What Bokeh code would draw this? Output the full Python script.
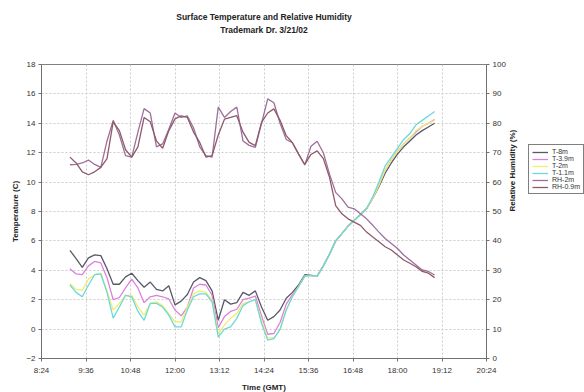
import math
from bokeh.plotting import figure
from bokeh.layouts import row
from bokeh.models import Range1d, LinearAxis, FixedTicker, Legend, LegendItem, Title
from bokeh.embed import file_html
from bokeh.resources import INLINE

# ---------------- data ----------------
times = ["9:10", "9:20", "9:30", "9:40", "9:50", "10:00", "10:10", "10:20", "10:30", "10:40",
         "10:50", "11:00", "11:10", "11:20", "11:30", "11:40", "11:50", "12:00", "12:10", "12:20",
         "12:30", "12:40", "12:50", "13:00", "13:10", "13:20", "13:30", "13:40", "13:50", "14:00",
         "14:10", "14:20", "14:30", "14:40", "14:50", "15:00", "15:10", "15:20", "15:30", "15:40",
         "15:50", "16:00", "16:10", "16:20", "16:30", "16:40", "16:50", "17:00", "17:10", "17:20",
         "17:30", "17:40", "17:50", "18:00", "18:10", "18:20", "18:30", "18:40", "18:50", "19:00"]

t_8m = [5.35, 4.8, 4.2, 4.85, 5.05, 5.0, 4.1, 3.05, 3.05, 3.55,
        3.8, 3.3, 2.85, 3.2, 2.7, 2.6, 2.95, 1.65, 1.9, 2.35,
        3.2, 3.5, 3.3, 2.6, 0.6, 2.0, 1.7, 1.8, 2.5, 2.3,
        2.6, 1.5, 0.6, 0.85, 1.3, 2.1, 2.5, 3.0, 3.7, 3.65,
        3.6, 4.3, 5.1, 6.0, 6.5, 7.0, 7.4, 7.8, 8.2, 8.9,
        9.7, 10.6, 11.3, 11.9, 12.4, 12.8, 13.2, 13.5, 13.75, 14.0]

t_3_9m = [4.1, 3.75, 3.7, 4.3, 4.6, 4.5, 3.5, 2.0, 2.15, 2.8,
          3.4, 2.8, 1.8, 2.2, 2.3, 2.2, 2.05, 1.3, 0.9, 1.5,
          2.8, 3.05, 3.0, 2.3, 0.1, 0.85, 1.2, 1.35, 2.0, 2.1,
          2.25, 0.9, -0.35, -0.3, 0.45, 1.7, 2.35, 2.9, 3.6, 3.65,
          3.6, 4.3, 5.1, 6.0, 6.5, 7.0, 7.4, 7.8, 8.2, 8.9,
          9.8, 10.8, 11.5, 12.1, 12.6, 13.0, 13.4, 13.8, 14.0, 14.25]

t_2m = [3.1, 2.7, 2.65, 3.4, 3.7, 3.8, 2.6, 1.3, 1.75, 2.3,
        2.3, 1.5, 0.95, 1.75, 1.85, 1.6, 1.05, 0.5, 0.5, 1.5,
        2.4, 2.6, 2.5, 2.0, -0.3, 0.27, 0.73, 1.07, 1.75, 1.86,
        2.0, 0.6, -0.6, -0.6, -0.07, 1.3, 2.2, 2.9, 3.6, 3.65,
        3.6, 4.3, 5.1, 6.0, 6.5, 7.0, 7.4, 7.8, 8.2, 8.9,
        9.8, 10.8, 11.5, 12.1, 12.6, 13.0, 13.5, 13.8, 14.0, 14.2]

t_1_1m = [3.0, 2.5, 2.2, 3.0, 3.7, 3.75, 2.5, 0.75, 1.5, 2.3,
          2.2, 1.2, 0.6, 1.75, 1.75, 1.5, 0.95, 0.15, 0.15, 1.3,
          2.2, 2.4, 2.4, 1.86, -0.55, 0.0, 0.15, 0.73, 1.6, 1.86,
          2.0, 0.4, -0.75, -0.65, 0.0, 1.3, 2.2, 2.9, 3.6, 3.65,
          3.6, 4.3, 5.1, 6.0, 6.5, 7.0, 7.4, 7.8, 8.2, 9.0,
          10.0, 11.1, 11.7, 12.3, 12.9, 13.3, 13.9, 14.2, 14.5, 14.8]

rh_2m = [65.9, 66.0, 66.5, 67.5, 66.0, 65.0, 74.0, 81.0, 76.0, 69.0,
         68.5, 77.0, 85.0, 83.5, 72.0, 73.0, 78.0, 83.5, 82.0, 82.5,
         78.5, 72.0, 69.0, 68.5, 85.5, 82.0, 84.0, 85.5, 74.0, 72.5,
         71.8, 80.0, 88.3, 87.0, 80.0, 74.5, 73.4, 69.5, 65.8, 72.2,
         73.9, 70.0, 62.7, 56.5, 54.3, 51.5, 50.9, 49.2, 47.5, 45.3,
         43.0, 40.8, 39.1, 37.4, 35.2, 33.5, 31.8, 30.1, 29.6, 28.4]

rh_0_9m = [68.5, 66.5, 63.5, 62.5, 63.5, 65.0, 68.0, 80.5, 77.5, 71.0,
           68.5, 72.0, 82.0, 80.5, 74.0, 71.5, 77.5, 81.5, 82.5, 82.0,
           77.0, 73.5, 68.5, 69.0, 76.0, 81.4, 82.0, 82.6, 77.0, 73.5,
           72.4, 80.3, 83.5, 84.9, 81.0, 75.8, 73.4, 69.5, 66.0, 69.4,
           70.6, 68.0, 61.6, 52.0, 49.2, 47.5, 46.4, 45.3, 43.0, 41.3,
           39.7, 38.0, 36.9, 35.2, 33.5, 32.4, 31.2, 29.6, 29.0, 27.5]

x_tick_labels = ["8:24", "9:36", "10:48", "12:00", "13:12", "14:24",
                 "15:36", "16:48", "18:00", "19:12", "20:24"]
temp_ticks = [-2, 0, 2, 4, 6, 8, 10, 12, 14, 16, 18]
rh_ticks = [0, 10, 20, 30, 40, 50, 60, 70, 80, 90, 100]


def to_min(s):
    h, m = s.split(":")
    return int(h) * 60 + int(m)


x = [to_min(s) for s in times]
x_ticks = [to_min(s) for s in x_tick_labels]

FONT = "Liberation Sans"

fig = figure(width=522, height=392, frame_width=445, frame_height=294,
             output_backend="svg", toolbar_location=None, title=None,
             x_range=Range1d(x_ticks[0], x_ticks[-1]),
             y_range=Range1d(temp_ticks[0], temp_ticks[-1]),
             min_border_left=41, min_border_right=36, min_border_top=64, min_border_bottom=34,
             background_fill_color="white", border_fill_color="white")
fig.extra_y_ranges = {"rh": Range1d(rh_ticks[0], rh_ticks[-1])}

fig.outline_line_color = "#808080"
fig.outline_line_width = 1

# titles (stacked outward from the plot frame: spacer, subtitle, main title)
spacer = Title(text=".", text_color="#ffffff", text_font=FONT,
               text_font_size="8.5px", standoff=21)
fig.add_layout(spacer, "above")
sub = Title(text="Trademark Dr. 3/21/02", align="center", text_font=FONT,
            text_font_size="8.5px", text_font_style="bold", text_color="#222222", standoff=2)
fig.add_layout(sub, "above")
main = Title(text="Surface Temperature and Relative Humidity", align="center", text_font=FONT,
             text_font_size="8.5px", text_font_style="bold", text_color="#222222", standoff=0)
fig.add_layout(main, "above")


def style_axis(ax):
    ax.axis_line_color = "#707070"
    ax.major_tick_line_color = "#707070"
    ax.major_tick_out = 3
    ax.major_tick_in = 0
    ax.minor_tick_line_color = None
    ax.major_label_text_font = FONT
    ax.major_label_text_font_size = "8px"
    ax.major_label_text_color = "#333333"
    ax.axis_label_text_font = FONT
    ax.axis_label_text_font_size = "8px"
    ax.axis_label_text_font_style = "bold"
    ax.axis_label_text_color = "#222222"
    ax.major_label_standoff = 3


# bottom axis
xa = fig.xaxis[0]
xa.ticker = FixedTicker(ticks=x_ticks)
xa.major_label_overrides = {m: s for m, s in zip(x_ticks, x_tick_labels)}
xa.axis_label = "Time (GMT)"
style_axis(xa)
xa.major_label_standoff = 4
xa.axis_label_standoff = 5

# left axis
ya = fig.yaxis[0]
ya.ticker = FixedTicker(ticks=temp_ticks)
ya.axis_label = "Temperature (C)"
style_axis(ya)
ya.axis_label_standoff = 3

# right axis
ra = LinearAxis(y_range_name="rh", ticker=FixedTicker(ticks=rh_ticks),
                axis_label="Relative Humidity (%)")
style_axis(ra)
ra.axis_label_standoff = 4
ra.axis_label_orientation = math.pi / 2
fig.add_layout(ra, "right")

# grids
fig.xgrid.ticker = FixedTicker(ticks=x_ticks)
fig.ygrid.ticker = FixedTicker(ticks=temp_ticks)
for g in (fig.xgrid[0], fig.ygrid[0]):
    g.grid_line_color = "#cccccc"
    g.grid_line_dash = "2 2"
    g.grid_line_width = 1

series = [
    ("T-8m", t_8m, "#585868", None),
    ("T-3.9m", t_3_9m, "#dd80dd", None),
    ("T-2m", t_2m, "#eeee72", None),
    ("T-1.1m", t_1_1m, "#6cd8d8", None),
    ("RH-2m", rh_2m, "#9c6f9c", "rh"),
    ("RH-0.9m", rh_0_9m, "#8e5a6a", "rh"),
]

for name, vals, col, rng in series:
    if rng:
        fig.line(x, vals, line_color=col, line_width=1.3, y_range_name=rng)
    else:
        fig.line(x, vals, line_color=col, line_width=1.3)

# legend panel (a small companion figure to the right of the chart); its
# renderers carry the same series but lie outside its (empty) view range
leg_fig = figure(width=62, height=392, output_backend="svg", toolbar_location=None, title=None,
                 x_axis_type=None, y_axis_type=None, x_range=Range1d(0, 1), y_range=Range1d(0, 1),
                 min_border=0, background_fill_color="white", border_fill_color="white")
leg_fig.outline_line_color = None
items = []
for name, vals, col, rng in series:
    r = leg_fig.line(x, vals, line_color=col, line_width=1.3)
    items.append(LegendItem(label=name, renderers=[r]))

legend = Legend(items=items, location=(4, 162),
                border_line_color="#000000", border_line_width=1,
                background_fill_color="white", background_fill_alpha=1,
                label_text_font=FONT, label_text_font_size="7px", label_text_color="#333333",
                label_text_line_height=0.9,
                glyph_width=16, glyph_height=6, label_height=6, label_standoff=4,
                spacing=0, padding=3, margin=0)
leg_fig.add_layout(legend, "center")

p = row(fig, leg_fig, spacing=0)

open("out.html", "w").write(file_html(p, INLINE))
